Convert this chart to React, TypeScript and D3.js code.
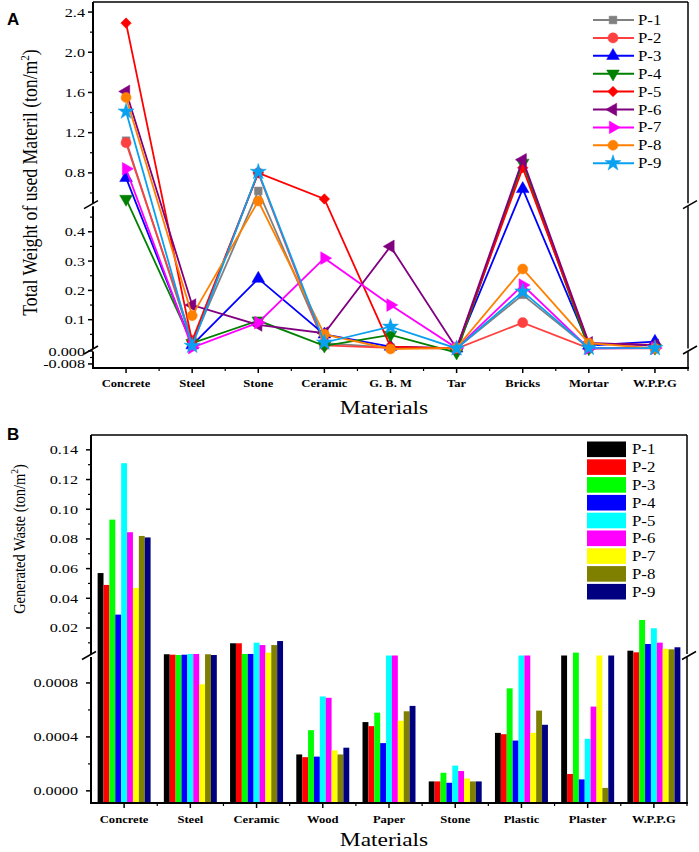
import React from "react";
import * as d3 from "d3";

const W = 699;
const H = 852;
const FONT = "'Liberation Serif', 'Times New Roman', serif";
const SX = 1.2; // the original text is stretched sideways

const SERIES = ["P-1", "P-2", "P-3", "P-4", "P-5", "P-6", "P-7", "P-8", "P-9"];

// ---------- panel A data ----------
const MATERIALS_A = ["Concrete", "Steel", "Stone", "Ceramic", "G. B. M", "Tar", "Bricks", "Mortar", "W.P.P.G"];
const WEIGHT_P1 = [1.12, 0.02, 0.62, 0.02, 0.005, 0.002, 0.185, 0.003, 0.005];
const WEIGHT_P2 = [1.1, 0.03, 0.8, 0.012, 0.004, 0.001, 0.09, 0.002, 0.002];
const WEIGHT_P3 = [0.75, 0.013, 0.24, 0.05, 0.008, 0.002, 0.64, 0.012, 0.025];
const WEIGHT_P4 = [0.54, 0.02, 0.097, 0.011, 0.048, -0.001, 0.9, 0.002, 0.004];
const WEIGHT_P5 = [2.29, 0.025, 0.8, 0.54, 0.008, 0.002, 0.85, 0.018, 0.014];
const WEIGHT_P6 = [1.61, 0.15, 0.082, 0.054, 0.35, 0.002, 0.93, 0.021, 0.012];
const WEIGHT_P7 = [0.84, 0.005, 0.09, 0.31, 0.15, 0.003, 0.218, 0.002, 0.003];
const WEIGHT_P8 = [1.55, 0.114, 0.52, 0.05, 0.0, 0.004, 0.273, 0.02, 0.002];
const WEIGHT_P9 = [1.41, 0.011, 0.81, 0.022, 0.076, 0.002, 0.196, 0.004, 0.003];
const WEIGHTS = [WEIGHT_P1, WEIGHT_P2, WEIGHT_P3, WEIGHT_P4, WEIGHT_P5, WEIGHT_P6, WEIGHT_P7, WEIGHT_P8, WEIGHT_P9];
const COLORS_A = ["#808080", "#ff4040", "#0000ff", "#008000", "#ff0000", "#800080", "#ff00ff", "#ff8000", "#0aa0f0"];
const SHAPES_A = ["square", "circle", "up", "down", "diamond", "left", "right", "circle", "star"];

const TICKS_A_UP = [0.8, 1.2, 1.6, 2.0, 2.4];
const MINOR_A_UP = [0.6, 1.0, 1.4, 1.8, 2.2];
const TICKS_A_MID = [0.1, 0.2, 0.3, 0.4];
const MINOR_A_MID = [0.05, 0.15, 0.25, 0.35, 0.45];
const TICKS_A_LOW = [0, -0.008];
const MINOR_A_LOW = [-0.004];

// ---------- panel B data ----------
const MATERIALS_B = ["Concrete", "Steel", "Ceramic", "Wood", "Paper", "Stone", "Plastic", "Plaster", "W.P.P.G"];
const WASTE_P1 = [0.057, 0.0023, 0.0097, 0.00027, 0.00051, 0.00007, 0.00043, 0.0012, 0.0047];
const WASTE_P2 = [0.049, 0.002, 0.0097, 0.00025, 0.00048, 0.00007, 0.00042, 0.000125, 0.0036];
const WASTE_P3 = [0.093, 0.0018, 0.0025, 0.00045, 0.00058, 0.000134, 0.00076, 0.0034, 0.0254];
const WASTE_P4 = [0.029, 0.002, 0.0025, 0.000254, 0.000354, 0.00006, 0.000373, 0.000085, 0.0092];
const WASTE_P5 = [0.131, 0.0025, 0.0101, 0.0007, 0.0012, 0.000187, 0.0012, 0.000386, 0.0198];
const WASTE_P6 = [0.0845, 0.0025, 0.0085, 0.00069, 0.0012, 0.000147, 0.0012, 0.000625, 0.0101];
const WASTE_P7 = [0.047, 0.00079, 0.0034, 0.0003, 0.00052, 0.000092, 0.00043, 0.0012, 0.006];
const WASTE_P8 = [0.082, 0.0023, 0.0085, 0.00027, 0.00059, 0.00007, 0.000595, 0.000022, 0.0056];
const WASTE_P9 = [0.081, 0.0018, 0.0112, 0.00032, 0.00063, 0.00007, 0.00049, 0.0012, 0.007];
const WASTES = [WASTE_P1, WASTE_P2, WASTE_P3, WASTE_P4, WASTE_P5, WASTE_P6, WASTE_P7, WASTE_P8, WASTE_P9];
const COLORS_B = ["#000000", "#ff0000", "#00ff00", "#0000ff", "#00ffff", "#ff00ff", "#ffff00", "#808000", "#000080"];

const TICKS_B_UP = [0.02, 0.04, 0.06, 0.08, 0.1, 0.12, 0.14];
const MINOR_B_UP = [0.01, 0.03, 0.05, 0.07, 0.09, 0.11, 0.13];
const TICKS_B_LOW = [0, 0.0004, 0.0008];
const MINOR_B_LOW = [0.0002, 0.0006];

// ---------- layout ----------
const PA = { left: 93, right: 688, top: 2, bottom: 368 };
const PB = { left: 91, right: 687, top: 435, bottom: 803 };

// stretched text
const T = ({ x, y, rotate = 0, children, ...rest }: any) => (
  <g transform={`translate(${x},${y}) scale(${SX},1)${rotate ? ` rotate(${rotate})` : ""}`}>
    <text fontFamily={FONT} {...rest}>
      {children}
    </text>
  </g>
);

const symbolPath = (shape: string, size: number) => {
  const types: any = {
    square: d3.symbolSquare,
    circle: d3.symbolCircle,
    up: d3.symbolTriangle,
    down: d3.symbolTriangle,
    left: d3.symbolTriangle,
    right: d3.symbolTriangle,
    diamond: d3.symbolSquare,
    star: d3.symbolStar,
  };
  return d3.symbol().type(types[shape]).size(size)() as string;
};
const symbolRot: any = { down: 180, left: -90, right: 90, diamond: 45 };
const symbolSize: any = { square: 60, circle: 80, up: 70, down: 70, left: 70, right: 70, diamond: 55, star: 80 };

const Marker = ({ x, y, shape, color }: any) => (
  <path
    d={symbolPath(shape, symbolSize[shape])}
    transform={`translate(${x},${y}) rotate(${symbolRot[shape] || 0})`}
    fill={color}
    stroke={color}
    strokeWidth={0.5}
  />
);

const BreakMark = ({ x, y }: any) => (
  <line x1={x - 7} y1={y + 4} x2={x + 7} y2={y - 4} stroke="#000" strokeWidth={1.5} />
);

const PanelA = () => {
  const x = d3.scalePoint<string>().domain(MATERIALS_A).range([PA.left, PA.right]).padding(0.5);
  const low = d3.scaleLinear().domain([-0.0105, 0]).range([PA.bottom, 351]);
  const mid = d3.scaleLinear().domain([0, 0.49]).range([349, 205.4]);
  const up = d3.scaleLinear().domain([0.49, 2.5]).range([204, PA.top]);
  const y = (v: number) => (v < 0 ? low(v) : v <= 0.49 ? mid(v) : up(v));
  const breaks = [350, 204.7];
  const step = x.step();

  const line = d3
    .line<number>()
    .x((_, i) => x(MATERIALS_A[i]) as number)
    .y((d) => y(d));

  const majors = [
    ...TICKS_A_UP.map((v) => ({ y: up(v), label: d3.format(".1f")(v) })),
    ...TICKS_A_MID.map((v) => ({ y: mid(v), label: d3.format(".1f")(v) })),
    ...TICKS_A_LOW.map((v) => ({ y: low(v), label: d3.format(".3f")(v).replace("−", "-") })),
  ];
  const minors = [...MINOR_A_UP.map(up), ...MINOR_A_MID.map(mid), ...MINOR_A_LOW.map(low)];

  const axisSegs = [
    [PA.bottom, breaks[0] + 1.5],
    [breaks[0] - 1.5, breaks[1] + 1.5],
    [breaks[1] - 1.5, PA.top],
  ];

  return (
    <g>
      {/* frame */}
      <line x1={PA.left} x2={PA.right} y1={PA.top} y2={PA.top} stroke="#000" strokeWidth={1.5} />
      <line x1={PA.left - 1} x2={PA.right + 1} y1={PA.bottom} y2={PA.bottom} stroke="#000" strokeWidth={2} />
      {axisSegs.map(([a, b], i) => (
        <g key={i}>
          <line x1={PA.left} x2={PA.left} y1={a} y2={b} stroke="#000" strokeWidth={2} />
          <line x1={PA.right} x2={PA.right} y1={a} y2={b} stroke="#000" strokeWidth={1.5} />
        </g>
      ))}
      {breaks.map((b) => (
        <g key={b}>
          <BreakMark x={PA.left - 2} y={b} />
          <BreakMark x={PA.right + 2} y={b} />
        </g>
      ))}
      {/* y ticks */}
      {majors.map((t) => (
        <g key={t.label}>
          <line x1={PA.left - 5} x2={PA.left} y1={t.y} y2={t.y} stroke="#000" strokeWidth={1.5} />
          <T x={PA.left - 8} y={t.y + 4.5} fontSize={13.5} textAnchor="end">
            {t.label}
          </T>
        </g>
      ))}
      {minors.map((m, i) => (
        <line key={i} x1={PA.left - 3} x2={PA.left} y1={m} y2={m} stroke="#000" strokeWidth={1.2} />
      ))}
      {/* x ticks */}
      {MATERIALS_A.map((m) => (
        <g key={m}>
          <line x1={x(m)} x2={x(m)} y1={PA.bottom} y2={PA.bottom + 5} stroke="#000" strokeWidth={1.5} />
          <line
            x1={(x(m) as number) + step / 2}
            x2={(x(m) as number) + step / 2}
            y1={PA.bottom}
            y2={PA.bottom + 3}
            stroke="#000"
            strokeWidth={1.2}
          />
          <T x={x(m)} y={387} fontSize={10.5} fontWeight="bold" textAnchor="middle">
            {m}
          </T>
        </g>
      ))}
      {/* series */}
      {WEIGHTS.map((vals, s) => (
        <g key={s}>
          <path d={line(vals) as string} fill="none" stroke={COLORS_A[s]} strokeWidth={1.8} />
          {vals.map((v, i) => (
            <Marker key={i} x={x(MATERIALS_A[i])} y={y(v)} shape={SHAPES_A[s]} color={COLORS_A[s]} />
          ))}
        </g>
      ))}
      {/* legend */}
      {SERIES.map((name, s) => {
        const ly = 20 + s * 17.9;
        return (
          <g key={name}>
            <line x1={593} x2={634} y1={ly} y2={ly} stroke={COLORS_A[s]} strokeWidth={2} />
            <Marker x={613} y={ly} shape={SHAPES_A[s]} color={COLORS_A[s]} />
            <T x={638} y={ly + 5} fontSize={14}>
              {name}
            </T>
          </g>
        );
      })}
      {/* titles */}
      <T x={37} y={182.5} rotate={-90} fontSize={17.7} textAnchor="middle">
        Total Weight of used Materil (ton/m
        <tspan dy={-7} fontSize={11}>
          2
        </tspan>
        <tspan dy={7}>)</tspan>
      </T>
      <T x={384} y={414} fontSize={19.5} textAnchor="middle">
        Materials
      </T>
      <text x={7} y={25} fontFamily="'Liberation Sans', Arial, sans-serif" fontWeight="bold" fontSize={17}>
        A
      </text>
    </g>
  );
};

const PanelB = () => {
  const x = d3.scaleBand<string>().domain(MATERIALS_B).range([PB.left, PB.right]).padding(0);
  const inner = d3
    .scaleBand<string>()
    .domain(SERIES)
    .range([0, x.bandwidth() * 0.8]);
  const offset = x.bandwidth() * 0.1;
  const low = d3.scaleLinear().domain([-0.00009, 0.001]).range([PB.bottom, 656]);
  const up = d3.scaleLinear().domain([0.0018, 0.15]).range([655, PB.top]);
  const brk = 655.5;
  const y = (v: number) => (v <= 0.001 ? low(v) : v < 0.0018 ? brk : up(v));

  const majors = [
    ...TICKS_B_UP.map((v) => ({ y: up(v), label: d3.format(".2f")(v) })),
    ...TICKS_B_LOW.map((v) => ({ y: low(v), label: d3.format(".4f")(v) })),
  ];
  const minors = [...MINOR_B_UP.map(up), ...MINOR_B_LOW.map(low)];

  return (
    <g>
      {/* bars */}
      {WASTES.map((vals, s) => (
        <g key={s}>
          {vals.map((v, i) => {
            const bx = (x(MATERIALS_B[i]) as number) + offset + (inner(SERIES[s]) as number);
            const top = y(v);
            return (
              <rect key={i} x={bx} y={top} width={inner.bandwidth()} height={PB.bottom - top} fill={COLORS_B[s]} />
            );
          })}
        </g>
      ))}
      {/* frame */}
      <line x1={PB.left} x2={PB.right} y1={PB.top} y2={PB.top} stroke="#000" strokeWidth={1.5} />
      <line x1={PB.left - 1} x2={PB.right + 1} y1={PB.bottom} y2={PB.bottom} stroke="#000" strokeWidth={2} />
      <line x1={PB.left} x2={PB.left} y1={PB.bottom} y2={brk + 1.5} stroke="#000" strokeWidth={2} />
      <line x1={PB.left} x2={PB.left} y1={brk - 1.5} y2={PB.top} stroke="#000" strokeWidth={2} />
      <line x1={PB.right} x2={PB.right} y1={PB.bottom} y2={brk + 1.5} stroke="#000" strokeWidth={1.5} />
      <line x1={PB.right} x2={PB.right} y1={brk - 1.5} y2={PB.top} stroke="#000" strokeWidth={1.5} />
      <BreakMark x={PB.left - 2} y={brk} />
      <BreakMark x={PB.right + 2} y={brk} />
      {majors.map((t) => (
        <g key={t.label}>
          <line x1={PB.left - 5} x2={PB.left} y1={t.y} y2={t.y} stroke="#000" strokeWidth={1.5} />
          <T x={PB.left - 13} y={t.y + 4.5} fontSize={13.5} textAnchor="end">
            {t.label}
          </T>
        </g>
      ))}
      {minors.map((m, i) => (
        <line key={i} x1={PB.left - 3} x2={PB.left} y1={m} y2={m} stroke="#000" strokeWidth={1.2} />
      ))}
      {MATERIALS_B.map((m) => {
        const cx = (x(m) as number) + x.bandwidth() / 2;
        return (
          <g key={m}>
            <line x1={cx} x2={cx} y1={PB.bottom} y2={PB.bottom + 5} stroke="#000" strokeWidth={1.5} />
            <line
              x1={cx + x.bandwidth() / 2}
              x2={cx + x.bandwidth() / 2}
              y1={PB.bottom}
              y2={PB.bottom + 3}
              stroke="#000"
              strokeWidth={1.2}
            />
            <T x={cx} y={823} fontSize={10.5} fontWeight="bold" textAnchor="middle">
              {m}
            </T>
          </g>
        );
      })}
      {/* legend */}
      {SERIES.map((name, s) => {
        const ly = 449.3 + s * 17.8;
        return (
          <g key={name}>
            <rect x={587} y={ly - 7.8} width={39} height={15.6} fill={COLORS_B[s]} />
            <T x={632} y={ly + 5} fontSize={14}>
              {name}
            </T>
          </g>
        );
      })}
      <T x={25} y={539} rotate={-90} fontSize={14.5} textAnchor="middle">
        Generated Waste (ton/m
        <tspan dy={-6} fontSize={9.5}>
          2
        </tspan>
        <tspan dy={6}>)</tspan>
      </T>
      <T x={384} y={846} fontSize={19.5} textAnchor="middle">
        Materials
      </T>
      <text x={7} y={440} fontFamily="'Liberation Sans', Arial, sans-serif" fontWeight="bold" fontSize={17}>
        B
      </text>
    </g>
  );
};

export default function App() {
  return (
    <svg
      width={W}
      height={H}
      viewBox={`0 0 ${W} ${H}`}
      style={{ position: "absolute", left: 0, top: 0, background: "#fff" }}
    >
      <rect width={W} height={H} fill="#fff" />
      <PanelA />
      <PanelB />
    </svg>
  );
}
